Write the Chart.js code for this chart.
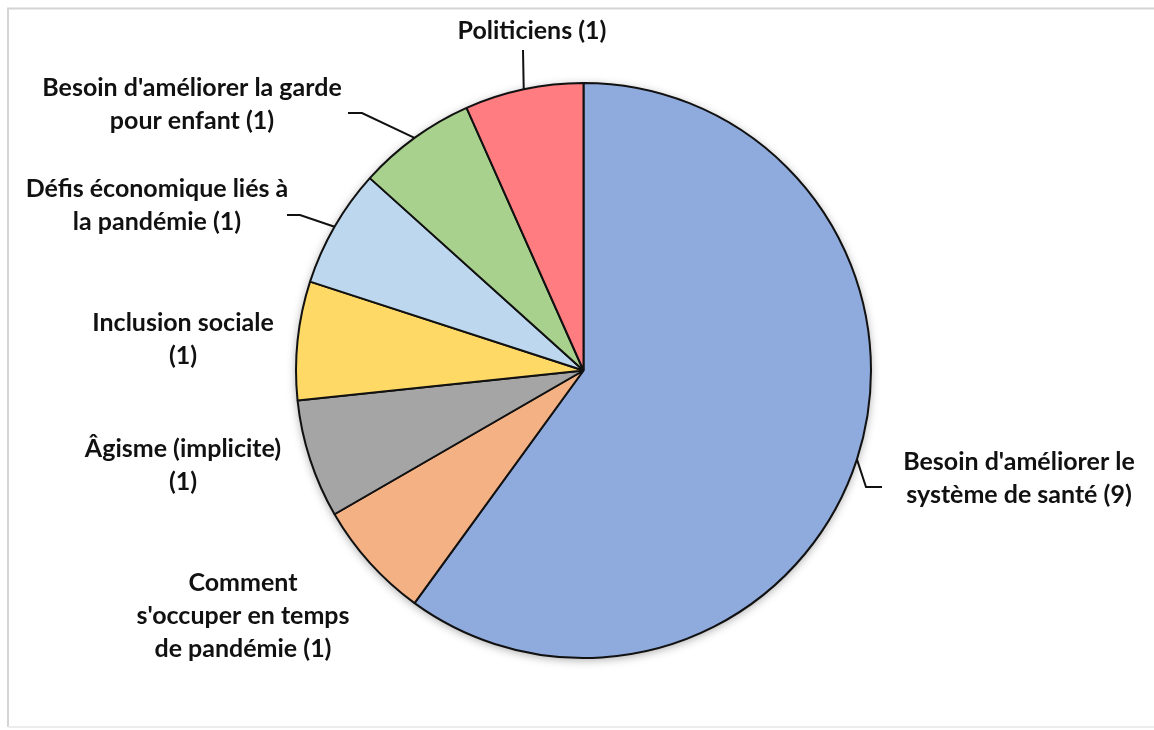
<!DOCTYPE html>
<html><head><meta charset="utf-8">
<script src="https://cdn.jsdelivr.net/npm/chart.js@4.4.1/dist/chart.umd.min.js"></script>
<style>html,body{margin:0;padding:0;background:#fff;}canvas{display:block;}</style>
</head><body>
<canvas id="c" width="1154" height="730"></canvas>
<script>
// ---- data ----
const categories = [
  "Besoin d'améliorer le\nsystème de santé",
  "Comment\ns'occuper en temps\nde pandémie",
  "Âgisme (implicite)\n",
  "Inclusion sociale\n",
  "Défis économique liés à\nla pandémie",
  "Besoin d'améliorer la garde\npour enfant",
  "Politiciens"
];
const counts = [9, 1, 1, 1, 1, 1, 1];
const colors = ["#8FAADC", "#F4B183", "#A5A5A5", "#FFD966", "#BDD7EE", "#A9D18E", "#FF7C80"];

// ---- label layout (text centre x, first-line centre y, leader start/elbow or null) ----
const labelPos = [
  {x: 1019, y: 462, leader: [882, 487, 866, 487]},
  {x: 243, y: 583, leader: null},
  {x: 183, y: 449, leader: null},
  {x: 183, y: 323, leader: null},
  {x: 157, y: 189, leader: [287, 215, 300, 215]},
  {x: 192, y: 88, leader: [348, 113, 362, 113]},
  {x: 532, y: 31, leader: [523, 50, 523, 50]}
];
const LINE_H = 33;

const framePlugin = {
  id: 'frame',
  beforeDraw(chart) {
    const ctx = chart.ctx;
    ctx.save();
    ctx.fillStyle = '#fff';
    ctx.fillRect(0, 0, chart.width, chart.height);
    ctx.lineWidth = 2;
    ctx.strokeStyle = '#d4d4d4';
    ctx.beginPath();
    ctx.moveTo(1160, 8.5);
    ctx.lineTo(8, 8.5);
    ctx.lineTo(8, 727);
    ctx.stroke();
    ctx.strokeStyle = '#ececec';
    ctx.beginPath();
    ctx.moveTo(8, 727);
    ctx.lineTo(1160, 727);
    ctx.stroke();
    ctx.restore();
  }
};

const shadowPlugin = {
  id: 'pieShadow',
  beforeDatasetsDraw(chart) {
    const arc = chart.getDatasetMeta(0).data[0];
    if (!arc) return;
    const {x, y, outerRadius} = arc.getProps(['x', 'y', 'outerRadius'], true);
    const ctx = chart.ctx;
    ctx.save();
    ctx.shadowColor = 'rgba(0,0,0,0.35)';
    ctx.shadowBlur = 10;
    ctx.shadowOffsetX = 0;
    ctx.shadowOffsetY = 2;
    ctx.fillStyle = '#fff';
    ctx.beginPath();
    ctx.arc(x, y, outerRadius, 0, Math.PI * 2);
    ctx.fill();
    ctx.restore();
  }
};

const labelPlugin = {
  id: 'outLabels',
  afterDatasetsDraw(chart) {
    const ctx = chart.ctx;
    const meta = chart.getDatasetMeta(0);
    ctx.save();
    ctx.font = 'bold 24px Lato';
    const ref = ctx.measureText('Politiciens (1)').width;
    const fs = 24 * 149 / ref;
    ctx.font = 'bold ' + fs.toFixed(2) + 'px Lato';
    ctx.fillStyle = '#111';
    ctx.textAlign = 'center';
    ctx.textBaseline = 'middle';
    meta.data.forEach((arc, i) => {
      const p = labelPos[i];
      const lines = categories[i].split('\n');
      lines[lines.length - 1] = (lines[lines.length - 1] + ' (' + counts[i] + ')').trim();
      lines.forEach((ln, k) => ctx.fillText(ln, p.x, p.y + k * LINE_H));
      if (p.leader) {
        const {x, y, outerRadius, startAngle, endAngle} =
          arc.getProps(['x', 'y', 'outerRadius', 'startAngle', 'endAngle'], true);
        const mid = (startAngle + endAngle) / 2;
        const ex = x + Math.cos(mid) * outerRadius;
        const ey = y + Math.sin(mid) * outerRadius;
        ctx.strokeStyle = '#111';
        ctx.lineWidth = 2;
        ctx.beginPath();
        ctx.moveTo(p.leader[0], p.leader[1]);
        ctx.lineTo(p.leader[2], p.leader[3]);
        ctx.lineTo(ex, ey);
        ctx.stroke();
      }
    });
    ctx.restore();
  }
};

new Chart(document.getElementById('c'), {
  type: 'pie',
  data: {
    labels: categories.map(s => s.replace('\n', ' ')),
    datasets: [{
      data: counts,
      backgroundColor: colors,
      borderColor: '#111',
      borderWidth: 2,
      hoverOffset: 0
    }]
  },
  options: {
    responsive: false,
    animation: false,
    events: [],
    layout: {padding: {left: 295, right: 282, top: 82, bottom: 71}},
    plugins: {legend: {display: false}, tooltip: {enabled: false}}
  },
  plugins: [framePlugin, shadowPlugin, labelPlugin]
});
</script>
</body></html>
